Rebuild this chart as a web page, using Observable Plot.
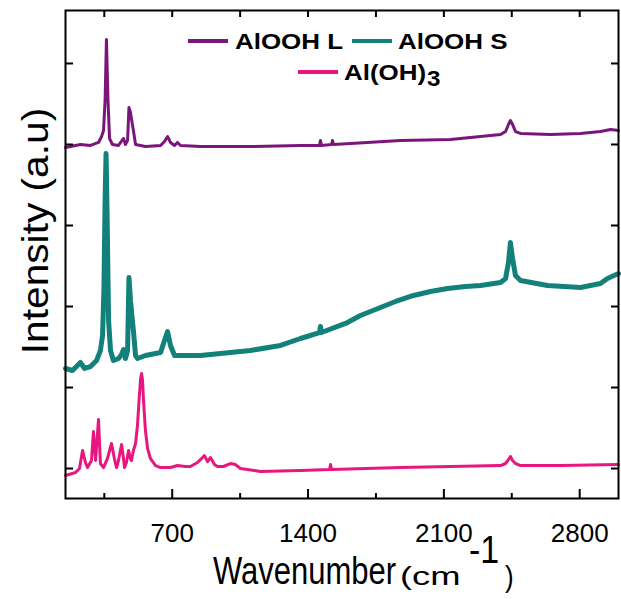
<!DOCTYPE html>
<html><head><meta charset="utf-8">
<script src="https://cdn.jsdelivr.net/npm/d3@7"></script>
<script src="https://cdn.jsdelivr.net/npm/@observablehq/plot@0.6"></script>
<style>
html,body{margin:0;padding:0;background:#fff;}
#chart{position:relative;width:621px;height:599px;}
</style></head><body><div id="chart"></div>
<script>
// ---- data ----
const seriesNames = ["AlOOH L", "AlOOH S", "Al(OH)3"];
const seriesColors = ["#7a1679", "#12807b", "#e8167f"];

const aloohL_wn = [150,227,279,320,336,346,354,361,369,377,392,423,449,459,470,477,485,493,500,511,562,640,660,676,691,712,727,743,846,1103,1361,1459,1464,1469,1521,1526,1531,1619,1877,2134,2289,2392,2418,2433,2443,2454,2469,2495,2650,2804,2907,2959,3000];
const aloohL_int = [4.963,5.000,4.988,5.025,5.099,5.173,5.543,6.296,5.543,5.074,5.000,4.988,5.074,5.000,5.049,5.457,5.395,5.272,5.173,5.000,4.975,4.988,5.037,5.099,5.025,4.988,5.025,4.988,4.975,4.975,4.988,4.988,5.049,4.988,5.000,5.049,5.000,5.012,5.049,5.062,5.099,5.123,5.160,5.247,5.296,5.247,5.160,5.136,5.123,5.136,5.160,5.185,5.173];

const aloohS_wn = [150,186,227,248,279,310,330,341,348,354,359,364,372,382,397,423,439,449,459,470,477,485,493,500,511,521,562,640,660,676,691,712,846,1000,1103,1258,1361,1459,1464,1469,1603,1670,1773,1851,1944,2031,2119,2211,2289,2392,2418,2433,2443,2454,2469,2495,2634,2804,2907,2943,3000];
const aloohS_int = [2.235,2.210,2.309,2.235,2.259,2.333,2.457,2.642,3.198,4.309,4.889,4.185,2.827,2.457,2.333,2.358,2.407,2.469,2.358,2.457,3.358,3.074,2.864,2.704,2.395,2.358,2.395,2.432,2.580,2.691,2.519,2.395,2.395,2.432,2.457,2.519,2.605,2.679,2.753,2.679,2.802,2.889,2.988,3.062,3.136,3.185,3.222,3.247,3.259,3.296,3.346,3.543,3.790,3.593,3.383,3.321,3.259,3.235,3.284,3.346,3.407];

const gibbsite_wn = [150,202,222,238,253,263,284,294,305,320,330,346,366,387,402,413,423,439,449,454,464,475,485,490,500,511,521,529,537,542,547,552,562,573,588,614,640,691,727,768,794,830,851,866,882,897,918,933,964,1000,1026,1052,1155,1361,1511,1516,1521,1877,2134,2392,2418,2433,2443,2454,2469,2495,2701,3000];
const gibbsite_int = [0.914,0.951,1.000,1.222,1.074,1.012,1.099,1.457,1.099,1.605,1.062,1.012,1.123,1.309,1.123,1.012,1.099,1.296,1.123,1.012,1.074,1.222,1.123,1.099,1.222,1.309,1.531,1.840,2.111,2.173,2.086,1.840,1.469,1.247,1.123,1.037,1.012,1.012,1.037,1.025,1.025,1.074,1.123,1.160,1.086,1.136,1.049,1.025,1.025,1.062,1.049,1.000,0.963,0.975,0.988,1.049,0.988,1.012,1.025,1.037,1.062,1.111,1.148,1.099,1.062,1.037,1.037,1.049];

const xMajorTicks = [700, 1400, 2100, 2800];
const xMinorTicks = [350, 1050, 1750, 2450];
const yTicks = [1, 2, 3, 4, 5, 6];

// ---- tables built from the arrays ----
const toRows = (wn, v) => wn.map((w, i) => ({wn: w, v: v[i]}));
const rowsL = toRows(aloohL_wn, aloohL_int);
const rowsS = toRows(aloohS_wn, aloohS_int);
const rowsG = toRows(gibbsite_wn, gibbsite_int);

const font = "'Liberation Sans', Arial, Helvetica, sans-serif";

const svg = Plot.plot({
  width: 621,
  height: 599,
  marginLeft: 65,
  marginRight: 3,
  marginTop: 10,
  marginBottom: 101,
  style: {fontFamily: font, background: "#fff", color: "#000"},
  x: {domain: [150, 3000]},
  y: {domain: [0.630, 6.654]},
  marks: [
    Plot.line(rowsG, {x: "wn", y: "v", stroke: seriesColors[2], strokeWidth: 3}),
    Plot.line(rowsS, {x: "wn", y: "v", stroke: seriesColors[1], strokeWidth: 5}),
    Plot.line(rowsL, {x: "wn", y: "v", stroke: seriesColors[0], strokeWidth: 3}),
    Plot.frame({stroke: "#000", strokeWidth: 2}),
    Plot.axisX(xMajorTicks, {anchor: "bottom", tickSize: -9, tickPadding: 34, strokeWidth: 2, fontSize: 26, label: null, tickFormat: d => String(d)}),
    Plot.axisX(xMinorTicks, {anchor: "bottom", tickSize: -5, strokeWidth: 2, tickFormat: () => "", label: null}),
    Plot.axisX(xMajorTicks.concat(xMinorTicks), {anchor: "top", tickSize: -6, strokeWidth: 2, tickFormat: () => "", label: null}),
    Plot.axisY(yTicks, {anchor: "left", tickSize: -8, strokeWidth: 2, tickFormat: () => "", label: null}),
    Plot.axisY(yTicks, {anchor: "right", tickSize: -8, strokeWidth: 2, tickFormat: () => "", label: null})
  ]
});
document.getElementById("chart").appendChild(svg);

// ---- axis titles and legend as SVG text ----
const s = d3.select(svg);
const g = s.append("g").attr("font-family", font).attr("fill", "#000").attr("text-anchor", "start");
function addText(parent, str, x, y, size, sx = 1, sy = 1, rot = 0) {
  return parent.append("text")
    .attr("transform", `translate(${x},${y}) rotate(${rot}) scale(${sx},${sy})`)
    .attr("font-size", size)
    .text(str);
}

addText(g, "Intensity (a.u)", 48, 231, 36, 1.13, 1.0, -90).attr("text-anchor", "middle");

addText(g, "Wavenumber", 213, 584, 31, 1, 1.28);
addText(g, "(cm", 400, 585, 26, 1.4, 1);
addText(g, "-1", 469, 563, 34, 1, 1.15);
addText(g, ")", 505, 587, 26, 1, 1.1);

const lg = g.append("g").attr("font-weight", "bold");
const legendRows = [
  {i: 0, x1: 188, y: 41, tx: 235},
  {i: 1, x1: 352, y: 41, tx: 398},
  {i: 2, x1: 298, y: 72, tx: 344}
];
legendRows.forEach(r => {
  lg.append("line").attr("x1", r.x1).attr("x2", r.x1 + 40).attr("y1", r.y).attr("y2", r.y)
    .attr("stroke", seriesColors[r.i]).attr("stroke-width", 4);
  if (r.i === 2) {
    addText(lg, "Al(OH)", r.tx, r.y + 8, 22, 1.18, 1);
    addText(lg, "3", r.tx + 83, r.y + 14, 22, 1.1, 1);
  } else {
    addText(lg, seriesNames[r.i], r.tx, r.y + 8, 22, 1.18, 1);
  }
});
</script></body></html>
